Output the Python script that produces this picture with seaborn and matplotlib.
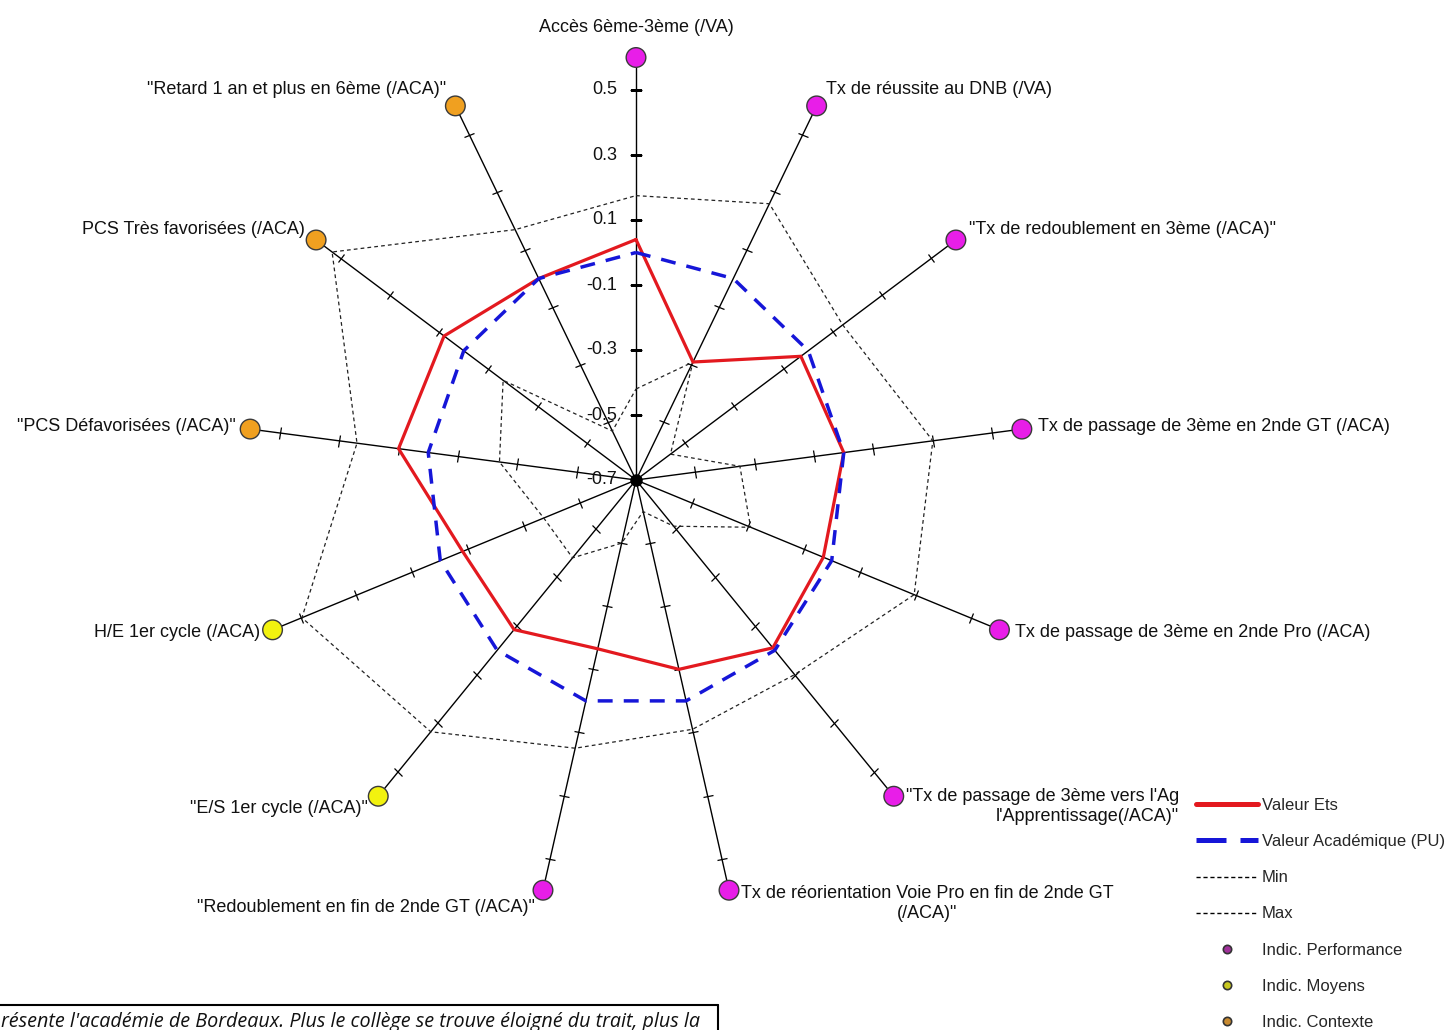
import numpy as np
import matplotlib
matplotlib.use("Agg")
import matplotlib.pyplot as plt
import seaborn as sns
from matplotlib.markers import MarkerStyle
from matplotlib.transforms import Affine2D
from matplotlib.lines import Line2D

# ---------------- data ----------------
indicators = [
    "Accès 6ème-3ème (/VA)",
    "Tx de réussite au DNB (/VA)",
    "\"Tx de redoublement en 3ème (/ACA)\"",
    "Tx de passage de 3ème en 2nde GT (/ACA)",
    "Tx de passage de 3ème en 2nde Pro (/ACA)",
    "\"Tx de passage de 3ème vers l'Ag\nl'Apprentissage(/ACA)\"",
    "Tx de réorientation Voie Pro en fin de 2nde GT\n(/ACA)\"",
    "\"Redoublement en fin de 2nde GT (/ACA)\"",
    "\"E/S 1er cycle (/ACA)\"",
    "H/E 1er cycle (/ACA)",
    "\"PCS Défavorisées (/ACA)\"",
    "PCS Très favorisées (/ACA)",
    "\"Retard 1 an et plus en 6ème (/ACA)\"",
]
groups = ["Performance"] * 8 + ["Moyens"] * 2 + ["Contexte"] * 3
valeur_ets = [0.04, -0.29, -0.03, 0.00, -0.03, -0.01, -0.10, -0.165, -0.085, -0.08, 0.10, 0.08, 0.00]
valeur_aca = [0.0] * 13
val_min = [-0.42, -0.29, -0.56, -0.35, -0.29, -0.51, -0.60, -0.50, -0.38, -0.37, -0.24, -0.16, -0.53]
val_max = [0.175, 0.26, 0.14, 0.30, 0.295, 0.10, 0.09, 0.15, 0.335, 0.495, 0.24, 0.535, 0.17]
radial_ticks = [-0.7, -0.5, -0.3, -0.1, 0.1, 0.3, 0.5]
radial_labels = ["-0.7", "-0.5", "-0.3", "-0.1", "0.1", "0.3", "0.5"]
r_min, r_end, r_max = -0.7, 0.6, 0.7
legend_labels = ["Valeur Ets", "Valeur Académique (PU)", "Min", "Max",
                 "Indic. Performance", "Indic. Moyens", "Indic. Contexte"]
footer_text = "résente l'académie de Bordeaux. Plus le collège se trouve éloigné du trait, plus la"

# ---------------- style ----------------
group_colors = {"Performance": "#e81ee8", "Moyens": "#f2f20f", "Contexte": "#f0a020"}
legend_dot_colors = ["#a0309a", "#c8c820", "#c88a30"]
red = "#e3191f"
blue = "#1616d8"

sns.set_theme(style="white")
plt.rcParams["font.family"] = ["Liberation Sans", "DejaVu Sans"]

W, H = 1449, 1030
fig = plt.figure(figsize=(W / 100, H / 100), dpi=100)
cx, cy = 636, 480
Ry = 455.0
Rx = 0.92 * Ry
ax = fig.add_axes([(cx - Rx) / W, (H - cy - Ry) / H, 2 * Rx / W, 2 * Ry / H], projection="polar")
ax.set_aspect("auto")
ax.set_theta_zero_location("N")
ax.set_theta_direction(-1)
ax.grid(False)
ax.set_xticks([])
ax.set_yticks([])
ax.spines["polar"].set_visible(False)
ax.patch.set_alpha(0)

n = len(indicators)
theta = np.arange(n) * 2 * np.pi / n

# axis spokes + ticks
for t in theta:
    ax.plot([t, t], [r_min, r_end], color="black", lw=1.0, zorder=2)
    phi = np.degrees(np.arctan2(np.cos(t), 0.92 * np.sin(t)))
    m = MarkerStyle("|", transform=Affine2D().rotate_deg(phi))
    ax.plot([t] * (len(radial_ticks) - 1), radial_ticks[1:], ls="none", marker=m,
            ms=8, mew=0.9, color="black", zorder=2)
ax.plot([0], [r_min], "o", color="black", ms=8, zorder=6)


def closed(v):
    return np.append(theta, 2 * np.pi), np.append(v, v[0])


ax.plot(*closed(val_max), color="#222222", lw=0.9, ls=(0, (3, 2.5)), zorder=3)
ax.plot(*closed(val_min), color="#222222", lw=0.9, ls=(0, (3, 2.5)), zorder=3)
ax.plot(*closed(valeur_ets), color=red, lw=2.3, zorder=4, solid_joinstyle="miter")
ax.plot(*closed(valeur_aca), color=blue, lw=2.5, ls=(0, (4.3, 3.2)), zorder=5)

sns.scatterplot(x=theta, y=[r_end] * n, hue=groups, palette=group_colors, s=200,
                edgecolor="#3a3a3a", linewidth=1.0, legend=False, ax=ax, zorder=7)
ax.set_xlabel("")
ax.set_ylabel("")
ax.set_xlim(0, 2 * np.pi)
ax.set_ylim(r_min, r_max)

# radial tick labels on vertical axis
for v, lbl in zip(radial_ticks, radial_labels):
    ax.annotate(lbl, xy=(0, v), xytext=(-19, 0), textcoords="offset pixels",
                ha="right", va="center", fontsize=13, color="#111111", annotation_clip=False)

# indicator labels
label_layout = [
    ((0, 30), "center", "center", "center"),
    ((9, 16), "left", "center", "left"),
    ((13, 10), "left", "center", "left"),
    ((16, 3), "left", "center", "left"),
    ((16, -3), "left", "center", "left"),
    ((12, 8), "left", "top", "right"),
    ((12, 5), "left", "top", "center"),
    ((-8, -17), "right", "center", "right"),
    ((-10, -12), "right", "center", "right"),
    ((-12, -3), "right", "center", "right"),
    ((-14, 3), "right", "center", "right"),
    ((-11, 10), "right", "center", "right"),
    ((-9, 16), "right", "center", "right"),
]
for t, txt, (off, ha, va, ma) in zip(theta, indicators, label_layout):
    ax.annotate(txt, xy=(t, r_end), xytext=off, textcoords="offset pixels",
                ha=ha, va=va, multialignment=ma, fontsize=13, linespacing=1.25,
                color="#111111", annotation_clip=False)

# legend
handles = [
    Line2D([], [], color=red, lw=3.6),
    Line2D([], [], color=blue, lw=3.6, ls=(0, (6.0, 2.8))),
    Line2D([], [], color="black", lw=1.0, ls=(0, (3, 2))),
    Line2D([], [], color="black", lw=1.0, ls=(0, (3, 2))),
]
for c in legend_dot_colors:
    handles.append(Line2D([], [], ls="none", marker="o", ms=6, mfc=c, mec="#333333", mew=1.2))
fig.legend(handles, legend_labels, loc="upper left", bbox_to_anchor=(1196 / W, 1 - 798 / H),
           frameon=False, fontsize=12, labelspacing=1.27, handlelength=3.7,
           handletextpad=0.25, borderpad=0, borderaxespad=0)

# footer box (cut off)
fig.add_artist(Line2D([0, 718 / W], [1 - 1005 / H] * 2, transform=fig.transFigure, color="black", lw=1.5))
fig.add_artist(Line2D([718 / W] * 2, [1 - 1005 / H, 0], transform=fig.transFigure, color="black", lw=1.5))
fig.text(1 / W, 1 - 1022 / H, footer_text, fontstyle="italic", family=["Open Sans", "DejaVu Sans"],
         fontsize=14.2, ha="left", va="center", color="#111111")

fig.savefig("out.png", dpi=100)
